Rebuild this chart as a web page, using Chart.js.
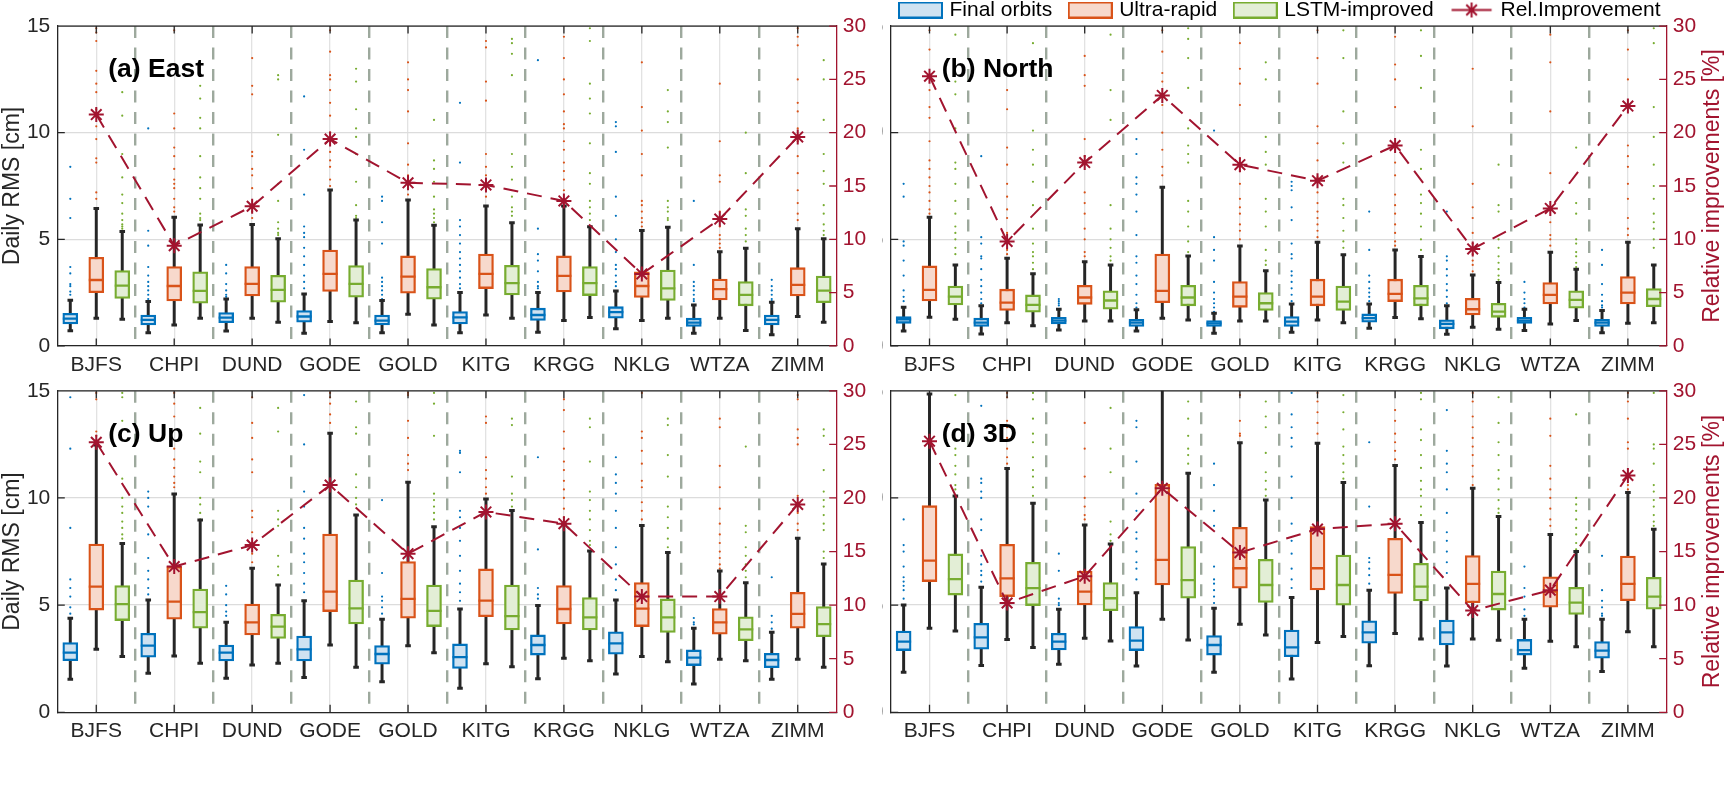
<!DOCTYPE html>
<html>
<head>
<meta charset="utf-8">
<script src="https://cdn.jsdelivr.net/npm/chart.js@4.4.1/dist/chart.umd.min.js"></script>
<style>
html,body{margin:0;padding:0;background:#fff;width:1728px;height:798px;overflow:hidden;position:relative}
canvas{position:absolute;display:block}
</style>
</head>
<body>
<canvas id="cA" width="880" height="380" style="left:0px;top:0px"></canvas>
<canvas id="cB" width="870" height="400" style="left:858px;top:-20px"></canvas>
<canvas id="cC" width="880" height="400" style="left:0px;top:360px"></canvas>
<canvas id="cD" width="870" height="400" style="left:858px;top:360px"></canvas>
<script>
// ---------------- DATA ----------------
const stations = ['BJFS','CHPI','DUND','GODE','GOLD','KITG','KRGG','NKLG','WTZA','ZIMM'];
const seriesNames = ['Final orbits','Ultra-rapid','LSTM-improved'];
const lineName = 'Rel.Improvement';
const leftTicks = [0,5,10,15];
const rightTicks = [0,5,10,15,20,25,30];
const panelLabels = ['(a) East','(b) North','(c) Up','(d) 3D'];

// box stats per station: [lower whisker, Q1, median, Q3, upper whisker]  (cm)
const eastFinal = [[0.71,1.03,1.28,1.53,2.14],[0.62,0.98,1.22,1.45,2.08],[0.70,1.09,1.33,1.56,2.20],[0.59,1.11,1.38,1.66,2.44],[0.62,0.98,1.19,1.45,2.13],[0.62,1.03,1.34,1.61,2.50],[0.64,1.19,1.45,1.77,2.50],[0.80,1.30,1.58,1.84,2.58],[0.59,0.91,1.09,1.30,1.92],[0.52,0.98,1.22,1.45,2.05]];
const eastUltra = [[1.30,2.50,3.09,4.16,6.45],[0.98,2.11,2.81,3.72,6.03],[1.30,2.34,2.91,3.72,5.70],[1.14,2.55,3.38,4.50,7.31],[1.48,2.47,3.25,4.22,6.84],[1.45,2.69,3.38,4.31,6.56],[1.19,2.53,3.28,4.22,6.56],[1.19,2.27,2.81,3.48,5.41],[1.30,2.16,2.66,3.14,4.42],[1.38,2.34,2.86,3.67,5.50]];
const eastLstm = [[1.25,2.23,2.83,3.53,5.36],[1.30,2.00,2.58,3.48,5.67],[1.11,2.05,2.63,3.31,5.03],[1.09,2.28,2.91,3.77,5.91],[0.98,2.19,2.75,3.63,5.66],[1.30,2.39,2.94,3.78,5.78],[1.33,2.36,2.94,3.72,5.59],[1.30,2.13,2.70,3.56,5.56],[0.72,1.88,2.39,3.02,4.58],[1.11,2.03,2.59,3.28,5.03]];
const eastImp = [21.7,9.4,13.1,19.4,15.3,15.1,13.6,6.75,11.9,19.6];

const northFinal = [[0.70,1.06,1.25,1.38,1.81],[0.56,0.91,1.09,1.30,1.88],[0.75,1.03,1.19,1.34,1.72],[0.70,0.91,1.09,1.25,1.69],[0.59,0.91,1.06,1.19,1.53],[0.64,0.91,1.14,1.38,1.97],[0.83,1.11,1.30,1.50,1.97],[0.55,0.80,1.03,1.22,1.88],[0.72,1.06,1.19,1.34,1.72],[0.62,0.91,1.09,1.25,1.66]];
const northUltra = [[1.34,2.11,2.63,3.75,6.03],[1.09,1.66,2.03,2.66,4.11],[1.17,1.95,2.27,2.84,3.95],[1.30,2.03,2.58,4.31,7.44],[1.17,1.81,2.31,3.02,4.69],[1.22,1.88,2.31,3.13,4.86],[1.33,2.08,2.44,3.13,4.50],[0.88,1.45,1.72,2.23,3.33],[1.03,1.97,2.39,2.97,4.39],[1.06,1.97,2.50,3.25,4.86]];
const northLstm = [[1.25,1.92,2.31,2.81,3.80],[0.94,1.58,1.92,2.39,3.38],[1.17,1.72,2.13,2.58,3.80],[1.22,1.88,2.27,2.84,4.22],[1.17,1.66,2.00,2.50,3.53],[1.09,1.66,2.08,2.81,4.27],[1.27,1.88,2.23,2.84,4.19],[0.78,1.34,1.61,2.00,2.97],[1.19,1.77,2.16,2.58,3.59],[1.09,1.84,2.20,2.69,3.80]];
const northImp = [25.3,9.8,17.2,23.5,17.0,15.5,18.8,9.1,12.9,22.5];

const upFinal = [[1.54,2.41,2.78,3.25,4.39],[1.82,2.57,3.11,3.69,5.24],[1.59,2.40,2.78,3.14,4.20],[1.62,2.40,2.94,3.56,5.21],[1.43,2.24,2.72,3.11,4.34],[1.12,2.05,2.57,3.19,4.82],[1.56,2.67,3.14,3.61,4.98],[1.79,2.71,3.22,3.76,5.24],[1.32,2.18,2.55,2.91,3.92],[1.54,2.08,2.44,2.75,3.73]];
const upUltra = [[2.94,4.77,5.86,7.85,12.47],[2.63,4.34,5.16,6.80,10.19],[2.21,3.61,4.20,5.05,6.72],[3.14,4.70,5.63,8.32,13.02],[3.11,4.39,5.29,7.03,10.73],[2.26,4.46,5.21,6.69,9.95],[2.52,4.12,4.82,5.91,8.79],[2.60,4.00,4.84,6.05,8.71],[2.47,3.64,4.20,4.84,6.59],[2.47,3.92,4.59,5.60,8.12]];
const upLstm = [[2.60,4.28,5.05,5.91,7.88],[2.29,3.92,4.67,5.75,8.97],[2.29,3.45,4.00,4.57,5.94],[2.10,4.12,4.85,6.17,9.21],[2.78,4.00,4.73,5.94,8.66],[2.13,3.84,4.49,5.94,9.41],[2.41,3.84,4.43,5.35,7.53],[2.36,3.73,4.43,5.29,7.45],[2.40,3.34,3.87,4.46,6.05],[2.10,3.53,4.11,4.93,6.92]];
const upImp = [25.2,13.6,15.6,21.2,14.8,18.7,17.6,10.8,10.8,19.4];

const d3Final = [[1.87,2.88,3.30,3.79,5.01],[2.18,2.94,3.50,4.15,5.83],[2.24,2.91,3.30,3.69,4.81],[2.16,2.88,3.34,4.00,5.58],[1.87,2.67,3.14,3.58,4.85],[1.55,2.59,3.03,3.84,5.36],[2.17,3.22,3.73,4.27,5.70],[2.16,3.14,3.73,4.30,5.80],[2.05,2.67,2.90,3.40,4.34],[1.90,2.52,2.88,3.30,4.34]];
const d3Ultra = [[3.92,6.10,7.08,9.64,14.85],[3.40,5.40,6.25,7.84,11.38],[3.45,5.01,5.63,6.59,8.74],[4.34,5.94,7.11,10.64,15.2],[4.11,5.79,6.72,8.63,12.58],[3.26,5.71,6.72,8.66,12.55],[3.68,5.55,6.41,8.12,11.51],[3.42,5.11,5.99,7.31,10.45],[3.31,4.90,5.63,6.32,8.30],[3.76,5.21,5.99,7.29,10.26]];
const d3Lstm = [[3.79,5.47,6.21,7.39,10.09],[3.02,4.98,5.79,7.00,9.75],[3.33,4.74,5.32,6.05,7.85],[3.37,5.32,6.17,7.73,11.15],[3.61,5.13,5.94,7.14,9.91],[3.54,5.00,5.94,7.34,10.72],[3.42,5.20,5.86,6.95,8.86],[3.36,4.77,5.52,6.59,9.13],[3.06,4.57,5.12,5.83,7.50],[3.06,4.81,5.40,6.30,8.54]];
const d3Imp = [25.3,10.2,12.7,20.9,14.9,17.1,17.6,9.5,11.4,22.1];

// outliers per station (cm)
const eastFinalOut = [[8.4,6.9,6.0,3.7,3.4,2.9,2.8,2.55,2.4],[10.2,5.4,4.7,3.7,3.3,3.0,2.8,2.6,2.4,2.2],[3.8,3.4,2.9,2.6,2.4,2.3],[11.7,9.2,7.1,5.6,5.3,5.1,4.6,4.2,3.8,3.3,3.0,2.7],[7.0,6.8,5.8,4.8,3.2,3.0,2.8,2.6,2.4,2.2],[11.4,8.6,5.9,5.6,5.2,4.8,4.4,4.1,3.8,3.5,3.2,2.9,2.7],[13.4,5.5,4.3,4.0,3.5,3.0,2.8,2.7],[10.5,10.3,9.1,7.0,6.1,5.0,4.4,3.8,3.6,3.3,3.0,2.8],[6.8,3.8,3.0,2.8,2.6,2.4,2.2,2.1],[3.1,2.8,2.6,2.4,2.2,2.1]];
const eastUltraOut = [[14.9,14.7,14.3,12.9,12.3,11.9,11.1,10.3,9.7,8.8,8.6,7.2,6.9],[14.8,13.2,10.9,10.2,9.3,8.9,8.3,7.8,7.6,7.4,6.9,6.5,6.3],[13.5,12.2,11.8,9.1,8.9,8.3,8.0,7.4,6.6,6.3,6.0],[14.8,13.8,12.7,12.5,12.0,11.4,10.8,10.0,9.1,8.7,8.4,7.8,7.5],[13.3,12.5,12.0,11.0,9.5,8.5,8.0,7.9,7.4,7.1],[14.3,14.0,12.4,11.5,9.0,8.4,8.0,7.8,7.3,7.0],[14.5,13.5,12.5,11.8,11.0,10.4,10.2,9.6,9.2,8.6,8.2,7.8,7.3,6.8],[13.3,11.2,10.1,9.0,8.0,6.8,6.6,6.3,6.0,5.8,5.6],[12.3,9.6,8.0,7.7,6.3,5.6,5.2,5.0,4.8,4.6],[14.9,14.5,14.1,12.5,11.4,11.0,10.2,9.6,8.9,8.1,7.3,6.7,6.2,5.9]];
const eastLstmOut = [[11.9,10.8,9.0,7.9,7.1,6.7,6.2,5.9,5.7,5.6,5.5],[12.2,11.6,10.7,10.2,8.9,7.9,7.4,6.9,6.2,6.0,5.9],[12.7,12.5,9.9,7.6,6.8,5.8,5.5,5.3,5.2],[13.0,12.4,11.1,10.2,9.8,9.0,7.7,6.6,6.1,6.0],[10.6,8.7,8.3,7.7,7.0,6.4,6.2,6.0,5.8],[14.4,14.2,13.7,12.7,9.0,8.4,7.8,7.0,6.5,6.3,6.1],[14.9,14.3,12.3,11.6,10.9,9.5,8.1,7.6,6.8,6.5,6.2,5.9],[12.0,11.0,10.5,9.3,6.8,6.5,6.3,6.0,5.9],[10.0,8.1,6.4,6.1,5.5,5.2,4.9],[13.4,12.5,10.6,9.0,8.2,7.6,6.6,6.2,5.7,5.4,5.2]];

const northFinalOut = [[7.6,7.0,4.9,4.7,4.0,3.3,2.6,2.3,2.1],[8.9,5.1,4.8,4.2,4.1,3.6,3.1,2.8,2.5,2.2,2.0],[2.2,2.1,2.0,1.9],[9.7,9.0,7.9,7.6,7.1,6.3,5.2,4.2,3.9,3.3,2.9,2.4,2.0,1.8],[10.1,5.1,4.5,4.0,3.0,2.5,2.2,2.0,1.8,1.6],[7.7,7.5,7.3,6.5,5.9,4.8,4.3,4.1,3.5,3.3,3.0,2.7,2.4,2.1],[6.3,4.5,3.3,3.0,2.7,2.5,2.3,2.1],[6.3,4.2,4.0,3.6,3.3,2.9,2.6,2.3,2.0],[3.0,2.5,2.2,2.0,1.8],[4.5,3.8,2.9,2.4,2.1,1.9,1.8]];
const northUltraOut = [[14.8,13.9,12.0,11.2,10.7,9.6,8.7,8.3,7.9,7.5,7.2,6.8,6.4,6.2],[12.0,11.1,9.3,8.5,7.6,7.0,6.4,6.0,5.3,4.8,4.5,4.3],[13.6,12.7,12.2,9.7,8.9,7.2,6.7,6.2,5.5,5.0,4.4,4.2],[14.8,13.8,12.8,12.4,11.3,10.0,9.2,8.4,8.0],[14.2,13.0,12.3,11.3,8.8,8.2,7.6,6.9,6.5,6.2,5.7,5.4,5.0],[14.8,13.5,12.3,10.3,9.5,8.7,7.9,7.2,6.7,6.3,6.0,5.7,5.4,5.1],[14.5,13.2,12.5,11.2,9.2,8.6,8.0,7.1,6.6,6.2,5.7,5.3,4.9,4.7],[13.0,10.3,7.6,6.5,6.0,5.3,4.8,4.3,4.0,3.8,3.5],[14.6,13.3,11.0,8.1,5.8,5.2,5.0,4.7],[14.8,13.9,12.5,11.3,9.4,8.9,8.4,7.6,6.9,6.0,5.5,5.2]];
const northLstmOut = [[14.6,12.4,11.8,10.2,8.6,8.3,7.6,6.8,6.2,5.6,5.3,5.0,4.6,4.3],[14.2,10.1,9.2,8.5,7.7,6.6,5.5,4.8,4.4,4.2,3.9,3.6],[14.6,12.0,10.6,6.6,5.5,5.0,4.6,4.2,4.0],[14.9,14.4,13.5,12.1,10.2,9.4,9.0,8.6,6.8,6.3,5.6,4.9,4.4],[13.3,12.5,9.8,9.1,8.5,6.9,6.3,5.6,4.5,4.0,3.8],[14.8,13.5,11.0,9.5,8.6,6.9,6.6,6.0,5.4,4.9,4.6],[14.8,13.6,12.1,9.2,8.3,7.1,6.7,6.2,5.6,5.0,4.5],[8.5,6.6,6.3,5.0,4.6,4.2,3.9,3.6,3.3,3.1],[9.3,6.7,6.2,5.0,4.8,4.4,4.2,3.9,3.7],[14.9,14.2,11.2,9.8,8.5,7.5,6.9,6.2,5.8,5.5,5.0,4.6]];

const upFinalOut = [[14.7,12.3,8.6,6.2,5.8,5.4,4.9,4.6],[10.3,10.0,9.6,8.3,7.2,6.6,6.2,5.8,5.5],[5.9,5.5,5.0,4.7,4.5],[14.8,12.5,10.3,9.6,8.6,8.1,7.4,7.0,6.5,6.0,5.6],[9.9,6.5,5.4,5.2,4.9,4.6],[12.2,12.1,11.2,9.4,9.1,8.6,8.0,7.3,6.6,6.0,5.6,5.2],[11.9,7.6,5.8,5.5,5.3],[11.9,11.1,10.7,10.2,9.4,8.6,7.7,6.9,6.2,5.7],[4.4,4.2,4.1],[6.3,4.5,4.2,3.9]];
const upUltraOut = [[14.9,14.6,13.1,12.9,12.6],[14.9,14.4,13.8,12.3,11.8,11.4,11.0,10.7,10.5],[14.7,13.5,12.8,11.8,11.2,9.4,9.1,8.4,7.9,7.4,7.0],[14.9,14.7,14.4,13.9,13.5],[14.9,14.8,13.6,12.8,12.0,11.6,11.3],[13.8,13.5,11.9,11.3,10.9,10.5,10.2],[14.6,14.1,13.1,12.3,11.7,11.3,10.8,10.4,10.0,9.5,9.1],[14.9,13.1,12.8,12.2,11.6,10.8,10.5,9.8,9.4,9.0],[13.7,13.3,11.5,10.5,9.5,8.8,8.3,7.9,7.5,7.2,6.9,6.7],[14.8,14.6,13.2,12.8,12.5,10.1,9.6,9.3,8.8,8.5]];
const upLstmOut = [[14.9,14.7,13.6,10.9,10.0,9.6,9.3,8.9,8.6,8.3,8.1],[14.2,13.0,11.7,11.2,10.0,9.7,9.3,9.0],[14.2,13.1,9.4,9.0,8.7,7.3,6.8,6.4],[14.5,13.3,13.0,11.1,10.5,10.0,9.7],[14.9,14.4,12.9,10.2,9.9,9.6,9.3,9.0],[13.7,13.4,11.0,10.2,9.9,9.6],[13.7,13.3,11.7,10.3,9.9,9.4,9.0,8.5,8.0,7.8],[13.7,13.4,12.0,11.0,9.6,9.1,8.6,8.1,7.7],[12.4,8.7,8.4,7.7,7.3,6.9,6.6,6.3],[13.2,12.9,11.3,10.3,9.9,9.6,9.2,8.8,8.5,7.5,7.2]];

const d3FinalOut = [[9.0,7.8,7.5,6.8,6.3,6.1,5.9,5.7,5.3],[14.3,10.9,10.7,10.3,10.0,9.0,8.5,7.3,6.9,6.6,6.4,6.1],[7.4,6.6,5.3,5.1,5.0],[13.6,13.3,11.7,10.2,9.4,8.4,8.1,7.5,7.0,6.7,6.2],[11.6,10.6,9.4,8.7,6.8,6.2,6.0,5.7,5.4,5.1],[14.9,13.9,13.3,12.8,12.4,11.0,10.0,8.8,8.0,7.4,6.7,6.2,5.8],[12.6,9.6,7.2,7.0,6.7,6.4,6.0],[14.1,12.2,11.6,11.2,10.4,9.3,8.4,8.0,7.5,7.0,6.5],[6.8,5.8,5.4,4.8,4.5],[7.3,5.7,5.2,4.9,4.6,4.5]];
const d3UltraOut = [[],[14.9,14.7,13.6,13.3,12.8,12.3,11.9,11.6],[13.5,12.3,11.0,10.0,9.6,9.2,9.0],[],[14.8,13.6,13.0,12.9],[14.9,14.5,14.0,13.5,13.0],[14.1,13.6,13.0,12.6,12.2,11.8],[14.9,14.5,13.8,13.3,12.8,12.4,12.0,11.5,11.0,10.6],[13.7,12.9,11.5,10.9,10.4,10.0,9.5,9.0,8.7],[14.9,14.5,13.7,12.6,12.3,11.1,10.6,10.4]];
const d3LstmOut = [[14.8,12.3,12.0,11.5,11.1,10.6,10.4],[14.9,14.6,13.7,13.0,12.6,11.9,11.3,11.0,10.5,10.1],[14.2,12.3,11.2,8.9,8.3,8.0],[14.5,13.7,12.9,12.3,12.0,11.6],[14.5,13.8,13.3,12.1,11.2,10.8,10.4,10.1],[14.8,14.0,13.2,12.4,12.0,11.6,11.2,10.9],[14.9,14.6,13.2,12.7,12.0,11.4,10.8,10.4,10.1,9.6,9.2],[14.7,13.5,12.6,12.0,11.3,10.9,10.4,9.9,9.5,9.3],[13.9,10.0,9.7,9.4,9.0,8.6,8.3,7.9,7.6],[14.9,12.5,12.3,11.6,10.6,10.3,9.9,9.6,9.2,8.9,8.7]];

// ---------------- STYLE ----------------
const LINE_COL = ['#0072BD','#D95319','#77AC30'];
const FILL_COL = ['#cfe2f1','#f7d9cc','#e3eed6'];
const IMP_COL = '#A2142F';
const AX_COL = '#262626';
const FONT = "'Liberation Sans', Arial, Helvetica, sans-serif";
Chart.defaults.font.family = FONT;
Chart.defaults.color = AX_COL;

function posOf(i, j) { return 3 * i + j + 1; }

function buildDatasets(boxes, outs, imp) {
  const ds = [];
  boxes.forEach((arr, j) => {
    const xs = stations.map((_, i) => posOf(i, j));
    ds.push({ type: 'bar', label: seriesNames[j], xAxisID: 'x', yAxisID: 'y',
      data: arr.map((b, i) => ({ x: xs[i], y: [b[1], b[3]] })),
      backgroundColor: FILL_COL[j], borderColor: LINE_COL[j], borderWidth: 2.3,
      borderSkipped: false, barThickness: 15, grouped: false, order: 2 });
    ds.push({ type: 'bar', label: seriesNames[j] + ' whisker', xAxisID: 'x', yAxisID: 'y',
      data: arr.map((b, i) => ({ x: xs[i], y: [b[0], b[4]] })),
      backgroundColor: AX_COL, borderWidth: 0, barThickness: 2.3, grouped: false, order: 4 });
    ds.push({ type: 'scatter', label: seriesNames[j] + ' median', xAxisID: 'x', yAxisID: 'y',
      data: arr.map((b, i) => ({ x: xs[i], y: b[2] })),
      pointStyle: 'line', pointRadius: 7.5, pointBorderColor: LINE_COL[j], pointBorderWidth: 2.3, order: 1 });
    ds.push({ type: 'scatter', label: seriesNames[j] + ' caps', xAxisID: 'x', yAxisID: 'y',
      data: arr.flatMap((b, i) => [{ x: xs[i], y: b[0] }, { x: xs[i], y: b[4] }]),
      pointStyle: 'line', pointRadius: 2.8, pointBorderColor: AX_COL, pointBorderWidth: 3, order: 3 });
    ds.push({ type: 'scatter', label: seriesNames[j] + ' outliers', xAxisID: 'x', yAxisID: 'y',
      data: outs[j].flatMap((o, i) => o.map(v => ({ x: xs[i], y: v }))),
      pointStyle: 'circle', pointRadius: 1.1, pointBackgroundColor: LINE_COL[j], pointBorderWidth: 0, order: 5 });
  });
  ds.push({ type: 'line', label: lineName, xAxisID: 'x', yAxisID: 'y2',
    data: imp.map((v, i) => ({ x: posOf(i, 1), y: v })),
    borderColor: IMP_COL, borderWidth: 2, borderDash: [15, 9], fill: false, tension: 0,
    pointStyle: 'star', pointRadius: 7.5, pointBorderColor: IMP_COL, pointBackgroundColor: IMP_COL,
    pointBorderWidth: 2, order: 0 });
  return ds;
}

// legend icons
function boxIcon(j) {
  const c = document.createElement('canvas'); c.width = 45; c.height = 17;
  const g = c.getContext('2d');
  g.fillStyle = FILL_COL[j]; g.fillRect(1, 1, 43, 15);
  g.strokeStyle = LINE_COL[j]; g.lineWidth = 2; g.strokeRect(1, 1, 43, 15);
  return c;
}
function lineIcon() {
  const c = document.createElement('canvas'); c.width = 45; c.height = 19;
  const g = c.getContext('2d');
  g.strokeStyle = IMP_COL; g.lineWidth = 2;
  g.beginPath(); g.moveTo(2.5, 9.5); g.lineTo(42.5, 9.5);
  const r = 7.5, cx = 22.5, cy = 9.5;
  for (let k = 0; k < 4; k++) {
    const a = k * Math.PI / 4;
    g.moveTo(cx + Math.cos(a) * r, cy + Math.sin(a) * r);
    g.lineTo(cx - Math.cos(a) * r, cy - Math.sin(a) * r);
  }
  g.stroke();
  return c;
}

const decor = {
  id: 'decor',
  afterDraw(chart, args, opts) {
    const { ctx, chartArea: a, scales } = chart;
    ctx.save();
    ctx.lineWidth = 1.3;
    ctx.strokeStyle = AX_COL;
    ctx.beginPath();
    ctx.moveTo(a.left, a.top); ctx.lineTo(a.right, a.top);
    const tl = 7.5;
    scales.y.ticks.forEach(t => {
      const py = scales.y.getPixelForValue(t.value);
      ctx.moveTo(a.left, py); ctx.lineTo(a.left + tl, py);
    });
    scales.x.ticks.forEach(t => {
      const px = scales.x.getPixelForValue(t.value);
      ctx.moveTo(px, a.bottom); ctx.lineTo(px, a.bottom - tl);
      ctx.moveTo(px, a.top); ctx.lineTo(px, a.top + tl);
    });
    ctx.stroke();
    ctx.strokeStyle = IMP_COL;
    ctx.beginPath();
    scales.y2.ticks.forEach(t => {
      const py = scales.y2.getPixelForValue(t.value);
      ctx.moveTo(a.right, py); ctx.lineTo(a.right - tl, py);
    });
    ctx.stroke();
    ctx.fillStyle = '#000';
    ctx.font = 'bold 26.5px ' + FONT;
    ctx.textBaseline = 'middle'; ctx.textAlign = 'left';
    ctx.fillText(opts.label, a.left + 51, a.top + 44);
    if (opts.rightTitle) {
      ctx.translate(a.right + 46.3, (a.top + a.bottom) / 2);
      ctx.rotate(-Math.PI / 2);
      ctx.textAlign = 'center';
      ctx.fillStyle = IMP_COL;
      ctx.font = '23px ' + FONT;
      ctx.fillText('Relative improvements [%]', 0, 0);
    }
    ctx.restore();
  }
};

function makeChart(id, boxes, outs, imp, cfg) {
  const legend = cfg.legend ? {
    display: true, position: 'top', align: 'start', maxHeight: 46.1,
    labels: {
      usePointStyle: true, pointStyleWidth: 37, boxHeight: 17, padding: 19.5,
      font: { size: 21 }, color: '#000',
      generateLabels: () => [
        ...seriesNames.map((n, j) => ({ text: n, pointStyle: boxIcon(j), fillStyle: FILL_COL[j], strokeStyle: LINE_COL[j], lineWidth: 0, hidden: false, datasetIndex: j * 5, fontColor: '#000' })),
        { text: lineName, pointStyle: lineIcon(), fillStyle: IMP_COL, strokeStyle: IMP_COL, lineWidth: 0, hidden: false, datasetIndex: 15, fontColor: '#000' }
      ]
    }
  } : { display: false };
  return new Chart(document.getElementById(id), {
    type: 'bar',
    data: { datasets: buildDatasets(boxes, outs, imp) },
    options: {
      responsive: false, animation: false, events: [],
      layout: { padding: cfg.pad },
      scales: {
        x: {
          type: 'linear', axis: 'x', position: 'bottom', min: 0.5, max: 30.5, offset: false,
          afterBuildTicks: s => { s.ticks = stations.map((_, i) => ({ value: posOf(i, 1) })); },
          afterFit: s => { s.height = cfg.xh; },
          ticks: { autoSkip: false, maxRotation: 0, minRotation: 0, padding: 6.3, font: { size: 21 }, color: AX_COL,
            callback: (v, i) => stations[i] },
          grid: { offset: false, color: '#e2e2e2', lineWidth: 1.3, drawTicks: false },
          border: { display: true, color: AX_COL, width: 1.3 }
        },
        x2: {
          type: 'linear', axis: 'x', position: 'bottom', min: 0.5, max: 30.5, offset: false,
          afterBuildTicks: s => { s.ticks = stations.slice(1).map((_, i) => ({ value: 3 * (i + 1) + 0.5 })); },
          afterFit: s => { s.height = 0; },
          ticks: { display: false },
          grid: { offset: false, color: '#9da99d', lineWidth: 2.4, drawTicks: false },
          border: { display: false, dash: [12, 9.5] }
        },
        y: {
          type: 'linear', axis: 'y', position: 'left', min: 0, max: 15,
          afterBuildTicks: s => { s.ticks = leftTicks.map(v => ({ value: v })); },
          afterFit: s => { s.width = cfg.yw; },
          ticks: { padding: 7, font: { size: 21 }, color: AX_COL },
          grid: { color: '#dcdcdc', lineWidth: 1.3, drawTicks: false },
          border: { display: true, color: AX_COL, width: 1.3 },
          title: { display: !!cfg.yTitle, text: 'Daily RMS [cm]', color: AX_COL, font: { size: 23, lineHeight: 1.1 }, padding: { top: 0, bottom: 0 } }
        },
        y2: {
          type: 'linear', axis: 'y', position: 'right', min: 0, max: 30,
          afterBuildTicks: s => { s.ticks = rightTicks.map(v => ({ value: v })); },
          afterFit: s => { s.width = cfg.y2w; },
          ticks: { padding: 6, font: { size: 21 }, color: IMP_COL },
          grid: { drawOnChartArea: false, drawTicks: false },
          border: { display: true, color: IMP_COL, width: 1.3 }
        }
      },
      plugins: {
        legend: legend,
        tooltip: { enabled: false },
        decor: { label: cfg.label, rightTitle: !!cfg.rightTitle }
      }
    },
    plugins: [decor]
  });
}

makeChart('cA', [eastFinal, eastUltra, eastLstm], [eastFinalOut, eastUltraOut, eastLstmOut], eastImp,
  { pad: { top: 26.1, left: 0, right: 0, bottom: 0 }, xh: 34.1, yw: 57.3, y2w: 43.3, yTitle: true, label: panelLabels[0] });
makeChart('cB', [northFinal, northUltra, northLstm], [northFinalOut, northUltraOut, northLstmOut], northImp,
  { pad: { top: 0, left: 24.5, right: 0, bottom: 0 }, xh: 34.1, yw: 8.2, y2w: 61.3, legend: true, rightTitle: true, label: panelLabels[1] });
makeChart('cC', [upFinal, upUltra, upLstm], [upFinalOut, upUltraOut, upLstmOut], upImp,
  { pad: { top: 30.8, left: 0, right: 0, bottom: 0 }, xh: 47.7, yw: 57.3, y2w: 43.3, yTitle: true, label: panelLabels[2] });
makeChart('cD', [d3Final, d3Ultra, d3Lstm], [d3FinalOut, d3UltraOut, d3LstmOut], d3Imp,
  { pad: { top: 30.8, left: 24.5, right: 0, bottom: 0 }, xh: 47.7, yw: 8.2, y2w: 61.3, rightTitle: true, label: panelLabels[3] });
</script>
</body>
</html>
